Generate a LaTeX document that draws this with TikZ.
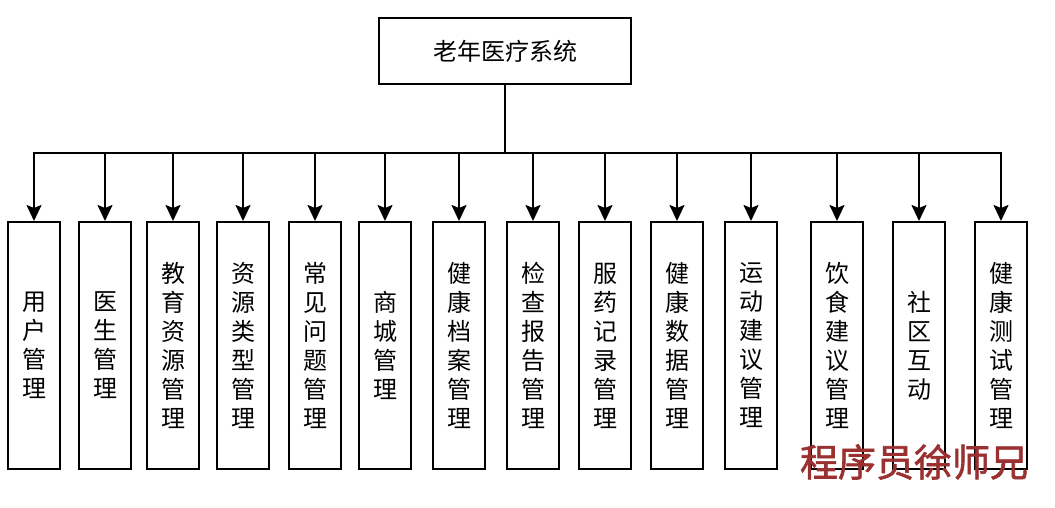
\documentclass[tikz,border=0pt]{standalone}
\usepackage{fontspec}
\setmainfont{Noto Sans CJK SC}
\newfontfamily\markfont[FakeBold=1.5]{Noto Sans CJK SC}
\usetikzlibrary{arrows.meta}

\definecolor{markred}{RGB}{155,48,48}

\tikzstyle{root} = [rectangle, draw, line width=2pt, minimum width=252pt, minimum height=66pt, inner sep=0pt, font=\fontsize{24}{29}\selectfont]
\tikzstyle{block} = [rectangle, draw, line width=2pt, minimum width=52pt, minimum height=247pt, inner sep=0pt, align=center, font=\fontsize{24}{29}\selectfont]
\tikzstyle{line} = [draw, -{Stealth[length=16pt, width=15pt, inset=3pt]}, line width=2pt]

\begin{document}
\begin{tikzpicture}[x=1pt, y=-1pt]
    \useasboundingbox (0,0) rectangle (1055,507);

    % ROOT
        \node [root] at (505,51)
            (sys) {老年医疗系统};
    % branch point under the root
        \coordinate (bus) at (505,153);

    % MODULES
        \node [block] at (34,345.5)   (m1)  {用\\户\\管\\理};
        \node [block] at (105,345.5)  (m2)  {医\\生\\管\\理};
        \node [block] at (173,345.5)  (m3)  {教\\育\\资\\源\\管\\理};
        \node [block] at (243,345.5)  (m4)  {资\\源\\类\\型\\管\\理};
        \node [block] at (315,345.5)  (m5)  {常\\见\\问\\题\\管\\理};
        \node [block] at (385,345.5)  (m6)  {商\\城\\管\\理};
        \node [block] at (459,345.5)  (m7)  {健\\康\\档\\案\\管\\理};
        \node [block] at (533,345.5)  (m8)  {检\\查\\报\\告\\管\\理};
        \node [block] at (605,345.5)  (m9)  {服\\药\\记\\录\\管\\理};
        \node [block] at (677,345.5)  (m10) {健\\康\\数\\据\\管\\理};
        \node [block] at (751,345.5)  (m11) {运\\动\\建\\议\\管\\理};
        \node [block] at (837,345.5)  (m12) {饮\\食\\建\\议\\管\\理};
        \node [block] at (919,345.5)  (m13) {社\\区\\互\\动};
        \node [block] at (1001,345.5) (m14) {健\\康\\测\\试\\管\\理};

    % LINES root -> modules
        \path[line] (sys.south) -- (bus) -| (m1.north);
        \path[line] (sys.south) -- (bus) -| (m2.north);
        \path[line] (sys.south) -- (bus) -| (m3.north);
        \path[line] (sys.south) -- (bus) -| (m4.north);
        \path[line] (sys.south) -- (bus) -| (m5.north);
        \path[line] (sys.south) -- (bus) -| (m6.north);
        \path[line] (sys.south) -- (bus) -| (m7.north);
        \path[line] (sys.south) -- (bus) -| (m8.north);
        \path[line] (sys.south) -- (bus) -| (m9.north);
        \path[line] (sys.south) -- (bus) -| (m10.north);
        \path[line] (sys.south) -- (bus) -| (m11.north);
        \path[line] (sys.south) -- (bus) -| (m12.north);
        \path[line] (sys.south) -- (bus) -| (m13.north);
        \path[line] (sys.south) -- (bus) -| (m14.north);

    % watermark
        \node [text=markred, inner sep=0pt, font=\markfont\fontsize{38}{40}\selectfont] at (914,462)
            (mark) {程序员徐师兄};
\end{tikzpicture}
\end{document}
